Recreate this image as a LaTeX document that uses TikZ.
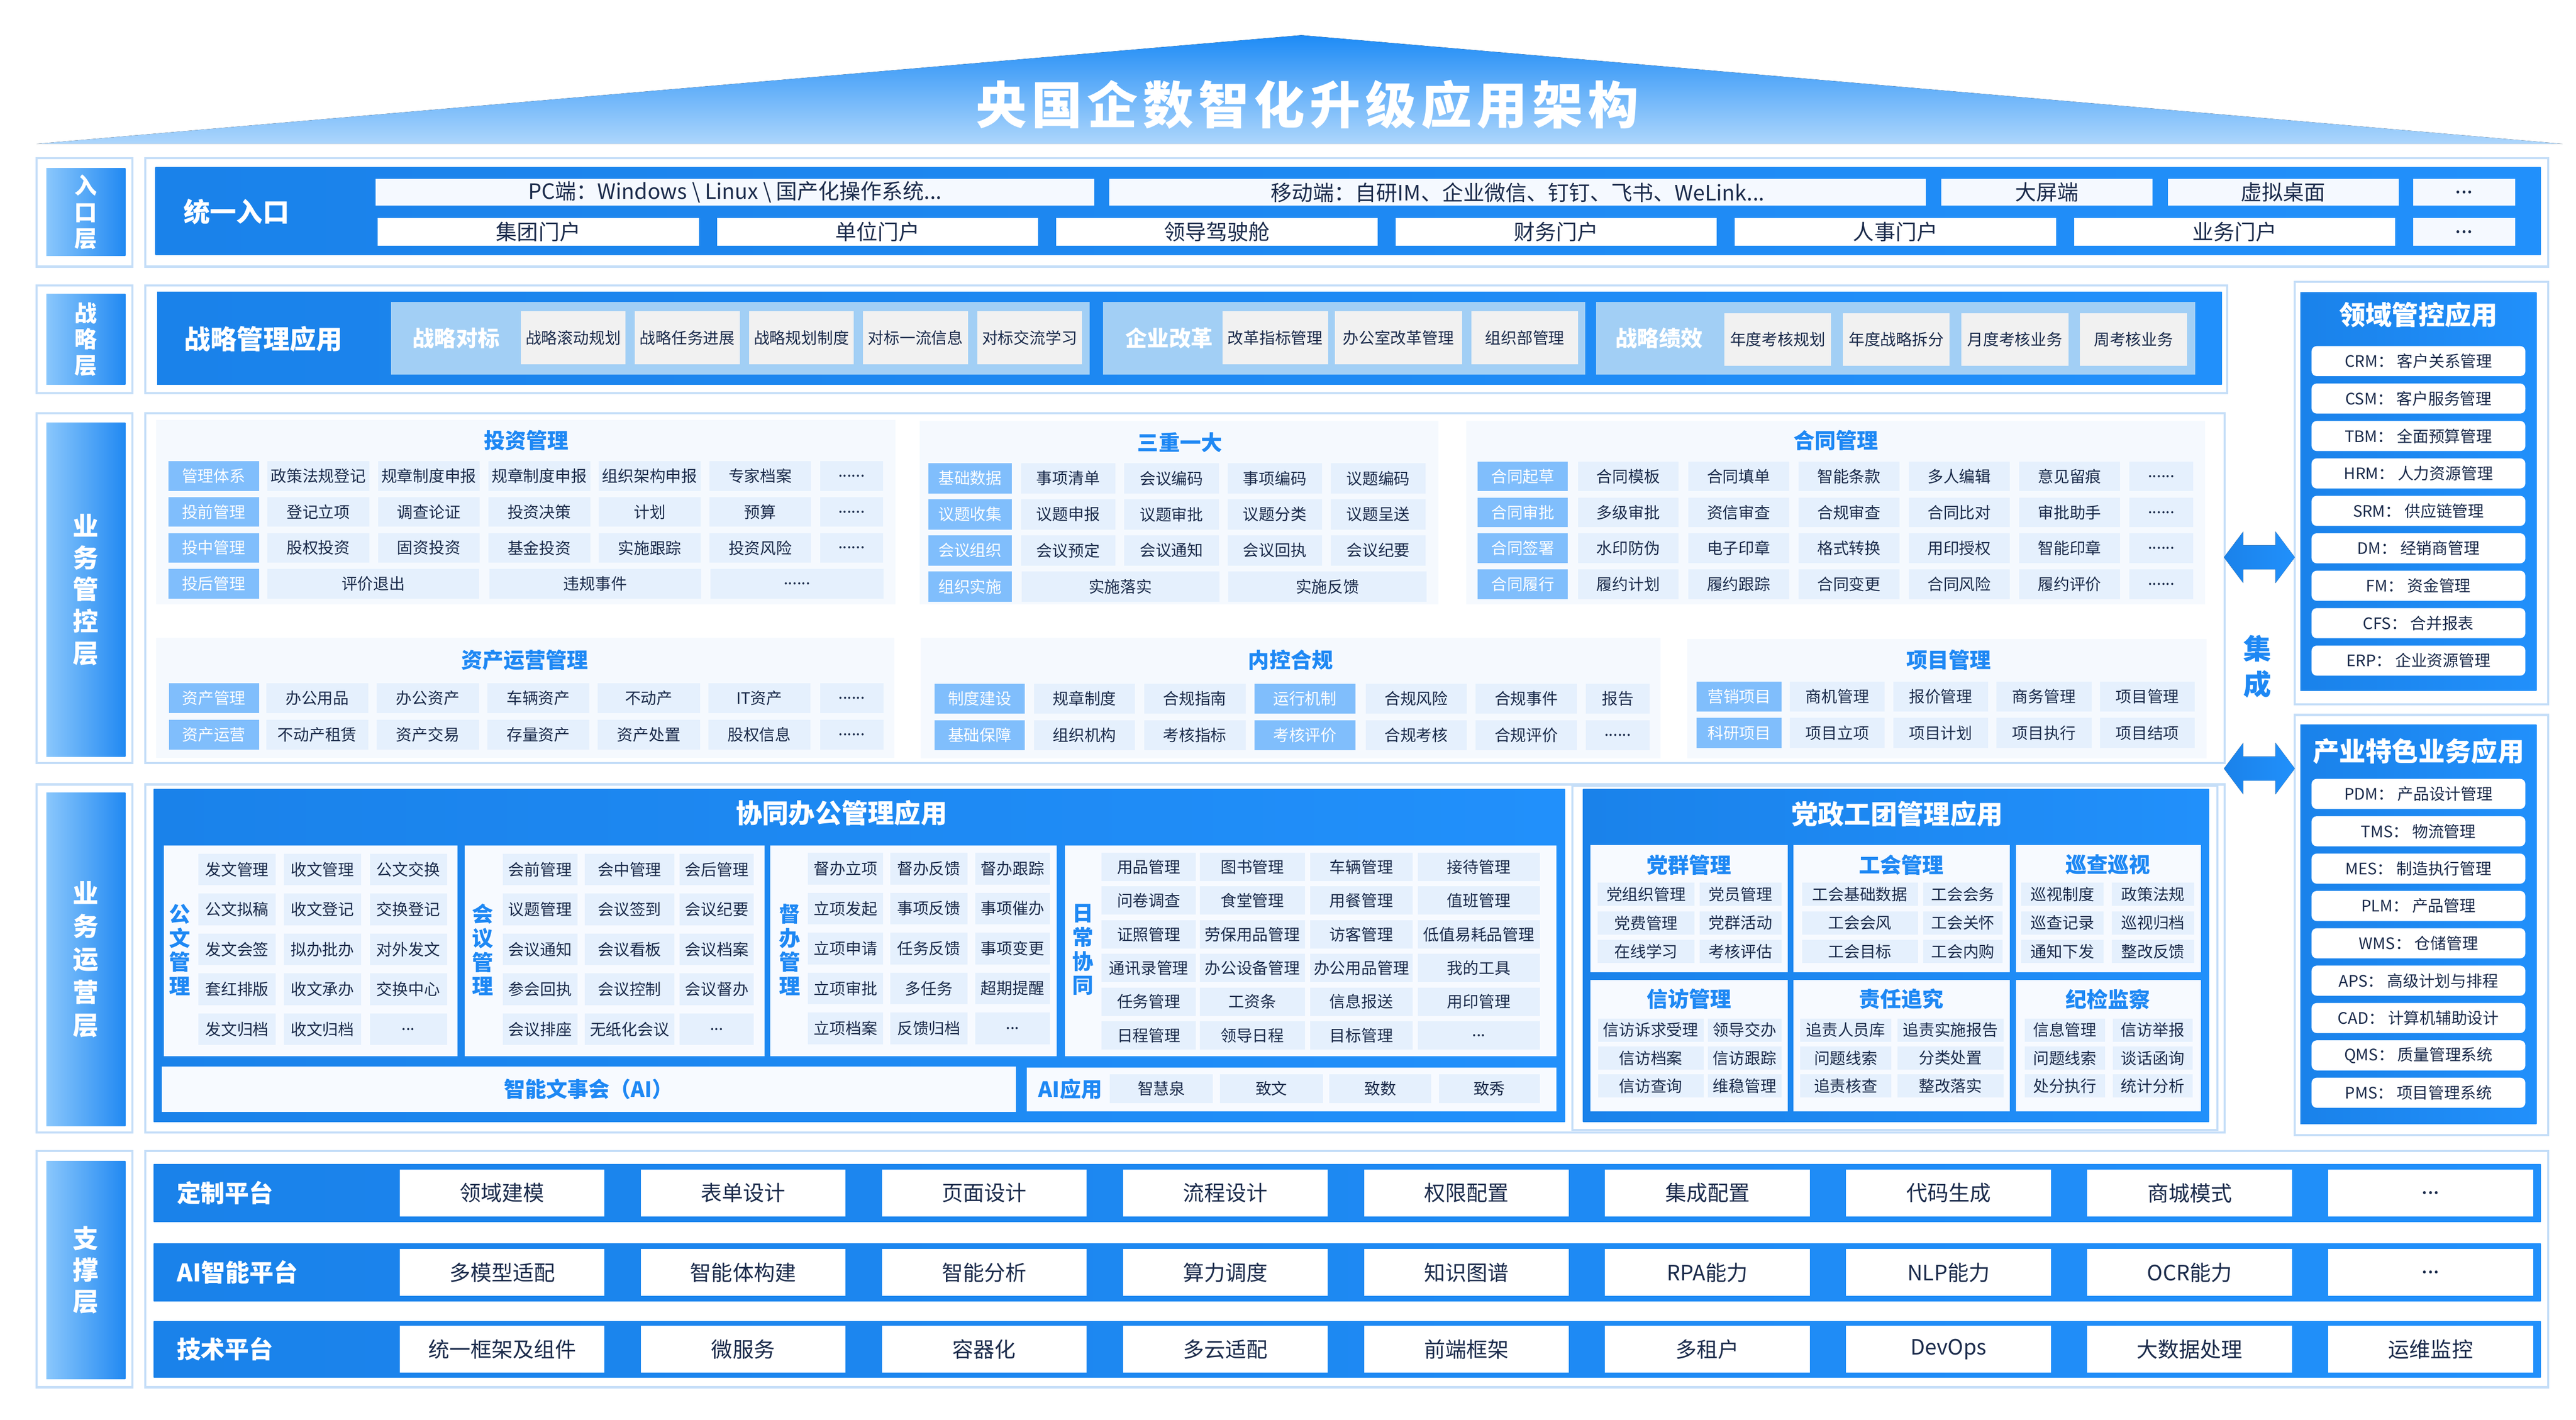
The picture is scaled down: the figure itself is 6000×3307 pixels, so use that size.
\documentclass[tikz,border=0pt]{standalone}
\usepackage{fontspec}
\newfontfamily\cjk{Noto Sans CJK SC}
\newfontfamily\cjkt[LetterSpace=10]{Noto Sans CJK SC}
\definecolor{cFrame}{HTML}{C5DEF8}
\definecolor{cLblL}{HTML}{8AC7FC}
\definecolor{cLblR}{HTML}{2189F2}
\definecolor{cBarL}{HTML}{1A82EA}
\definecolor{cBarR}{HTML}{2190FB}
\definecolor{cPanel}{HTML}{F5F9FE}
\definecolor{cSub}{HTML}{F7FAFF}
\definecolor{cItem}{HTML}{E5F0FD}
\definecolor{cTag}{HTML}{80BEFC}
\definecolor{cText}{HTML}{1B2B4B}
\definecolor{cBlue}{HTML}{1E88F4}
\definecolor{cSG}{HTML}{A2CFF5}
\definecolor{cSI}{HTML}{F1F1F1}
\definecolor{cTriT}{HTML}{1D8BF6}
\definecolor{cTriB}{HTML}{ADD6FC}
\definecolor{cEnt}{HTML}{F5F9FF}
\newcommand\sixdots{......}
\newcommand\tdots{...}
\newcommand\bx[7]{\node[#1, minimum width={(#5)*0.01cm-(#3)*0.01cm}, minimum height={(#6)*0.01cm-(#4)*0.01cm}] (#2) at ({((#3)+(#5))/2},{((#4)+(#6))/2}) {#7};}
\newcommand\grow[8]{\foreach \t [count=\k] in {#8}{\pgfmathsetmacro\xa{#3+(\k-1)*(#4)}\pgfmathsetmacro\xb{\xa+#5}\bx{#1}{#2\k}{\xa}{#6}{\xb}{#7}{\t}}}
\newcommand\gcol[8]{\foreach \t [count=\k] in {#8}{\pgfmathsetmacro\ya{#5+(\k-1)*(#6)}\pgfmathsetmacro\yb{\ya+#7}\bx{#1}{#2\k}{#3}{\ya}{#4}{\yb}{\t}}}
\tikzset{
 bxs/.style={inner sep=0pt, outer sep=0pt, anchor=center},
 frm/.style={bxs, draw=cFrame, line width=1.4pt, fill=white},
 lay/.style={bxs, left color=cLblL, right color=cLblR, text=white, align=center},
 bar/.style={bxs, left color=cBarL, right color=cBarR},
 pnl/.style={bxs, fill=cPanel},
 itm/.style={bxs, fill=cItem, text=cText, font=\cjk\fontsize{10.5pt}{12pt}\selectfont},
 tag/.style={bxs, fill=cTag, text=white, font=\cjk\fontsize{10.5pt}{12pt}\selectfont},
 ptl/.style={inner sep=0pt, text=cBlue, font=\cjk\bfseries\fontsize{14pt}{16pt}\selectfont},
 ent/.style={bxs, fill=cEnt, text=cText, font=\cjk\fontsize{14pt}{16pt}\selectfont},
 sgp/.style={bxs, fill=cSG},
 sgl/.style={inner sep=0pt, text=white, font=\cjk\bfseries\fontsize{14.5pt}{17pt}\selectfont},
 sit/.style={bxs, fill=cSI, text=cText, font=\cjk\fontsize{10.5pt}{12pt}\selectfont},
 wtl/.style={inner sep=0pt, text=white, font=\cjk\bfseries\fontsize{17.5pt}{21pt}\selectfont},
 rit/.style={bxs, fill=white, rounded corners=0.12cm, text=cText, font=\cjk\fontsize{10.5pt}{12pt}\selectfont},
 vtl/.style={inner sep=0pt, text=cBlue, align=center, font=\cjk\bfseries\fontsize{14pt}{15.9pt}\selectfont},
 supi/.style={bxs, fill=white, text=cText, font=\cjk\fontsize{14pt}{16pt}\selectfont},
 slb/.style={inner sep=0pt, anchor=west, text=white, font=\cjk\bfseries\fontsize{16pt}{19pt}\selectfont},
 arr/.style={left color=cBarL, right color=cBarR},
}
\begin{document}
\begin{tikzpicture}[x=0.01cm,y=-0.01cm]
\useasboundingbox (0,0) rectangle (6000,3307);
\fill[white] (0,0) rectangle (6000,3307);
% ---------- title
\fill[top color=cTriT, bottom color=cTriB] (85,335) -- (3031,82) -- (5969,335) -- cycle;
\node[inner sep=0pt, text=white, font=\cjkt\bfseries\fontsize{33.5pt}{40pt}\selectfont] (title) at (3045,244) {央国企数智化升级应用架构};
% ---------- entry layer
\bx{frm}{fL1}{85}{368}{308}{621}{}
\bx{lay,font=\cjk\bfseries\fontsize{15pt}{17.6pt}\selectfont}{L1}{108}{392}{292}{596}{入\\口\\层}
\bx{frm}{fM1}{338}{368}{5935}{621}{}
\bx{bar}{B1}{362}{389}{5918}{593}{}
\node[wtl, anchor=west] (B1t) at (427,493) {统一入口};
\bx{ent}{e1}{875}{417}{2549}{479}{PC端：Windows \textbackslash{} Linux \textbackslash{} 国产化操作系统...}
\bx{ent}{e2}{2584}{417}{4486}{479}{移动端：自研IM、企业微信、钉钉、飞书、WeLink...}
\bx{ent}{e3}{4522}{417}{5013}{479}{大屏端}
\bx{ent}{e4}{5049}{417}{5587}{479}{虚拟桌面}
\bx{ent}{e5}{5621}{417}{5858}{479}{...}
\grow{ent,fill=white}{p}{880}{790.2}{748}{508}{572}{集团门户,单位门户,领导驾驶舱,财务门户,人事门户,业务门户}
\bx{ent}{p7}{5621}{508}{5858}{572}{...}
% ---------- strategy layer
\bx{frm}{fL2}{85}{665}{308}{916}{}
\bx{lay,font=\cjk\bfseries\fontsize{15pt}{17.1pt}\selectfont}{L2}{108}{685}{292}{896}{战\\略\\层}
\bx{frm}{fM2}{338}{665}{5188}{916}{}
\bx{bar}{B2}{366}{680}{5175}{896}{}
\node[wtl, anchor=west] (B2t) at (428,790) {战略管理应用};
\bx{sgp}{g1}{911}{703}{2538}{872}{}
\node[sgl] (g1t) at (1062,788) {战略对标};
\grow{sit}{g1i}{1213}{265.8}{244}{725}{849}{战略滚动规划,战略任务进展,战略规划制度,对标一流信息,对标交流学习}
\bx{sgp}{g2}{2569}{703}{3692}{872}{}
\node[sgl] (g2t) at (2723,788) {企业改革};
\bx{sit}{g2i1}{2847}{725}{3093}{849}{改革指标管理}
\bx{sit}{g2i2}{3109}{725}{3405}{849}{办公室改革管理}
\bx{sit}{g2i3}{3427}{725}{3676}{849}{组织部管理}
\bx{sgp}{g3}{3717}{703}{5113}{872}{}
\node[sgl] (g3t) at (3864,788) {战略绩效};
\grow{sit}{g3i}{4016}{276.3}{249}{730}{852}{年度考核规划,年度战略拆分,月度考核业务,周考核业务}
% ---------- business control layer
\bx{frm}{fL3}{85}{962}{308}{1777}{}
\bx{lay,font=\cjk\bfseries\fontsize{17pt}{21pt}\selectfont}{L3}{108}{985}{292}{1762}{业\\务\\管\\控\\层}
\bx{frm}{fM3}{338}{962}{5181}{1777}{}
% investment
\bx{pnl}{inv}{364}{978}{2086}{1407}{}
\node[ptl] (invT) at (1226,1026) {投资管理};
\gcol{tag}{invL}{392}{603}{1074}{83.7}{69}{管理体系,投前管理,投中管理,投后管理}
\grow{itm}{invA}{623}{257.3}{237}{1074}{1143}{政策法规登记,规章制度申报,规章制度申报,组织架构申报,专家档案}
\grow{itm}{invB}{623}{257.3}{237}{1157.7}{1226.7}{登记立项,调查论证,投资决策,计划,预算}
\grow{itm}{invC}{623}{257.3}{237}{1241.4}{1310.4}{股权投资,固资投资,基金投资,实施跟踪,投资风险}
\gcol{itm}{invX}{1910}{2057}{1074}{83.7}{69}{\sixdots,\sixdots,\sixdots}
\bx{itm}{invD1}{623}{1325}{1116}{1394}{评价退出}
\bx{itm}{invD2}{1140}{1325}{1633}{1394}{违规事件}
\bx{itm}{invD3}{1655}{1325}{2058}{1394}{\sixdots}
% three-one
\bx{pnl}{sz}{2142}{981}{3350}{1407}{}
\node[ptl] (szT) at (2748,1030) {三重一大};
\gcol{tag}{szL}{2162}{2357}{1079}{84}{70}{基础数据,议题收集,会议组织,组织实施}
\grow{itm}{szA}{2378}{240.7}{220}{1079}{1149}{事项清单,会议编码,事项编码,议题编码}
\grow{itm}{szB}{2378}{240.7}{220}{1163}{1233}{议题申报,议题审批,议题分类,议题呈送}
\grow{itm}{szC}{2378}{240.7}{220}{1247}{1317}{会议预定,会议通知,会议回执,会议纪要}
\bx{itm}{szD1}{2379}{1331}{2840}{1401}{实施落实}
\bx{itm}{szD2}{2861}{1331}{3323}{1401}{实施反馈}
% contract
\bx{pnl}{ht}{3415}{980}{5136}{1407}{}
\node[ptl] (htT) at (4276,1026) {合同管理};
\gcol{tag}{htL}{3442}{3652}{1075}{83.7}{69}{合同起草,合同审批,合同签署,合同履行}
\grow{itm}{htA}{3675}{257}{235}{1075}{1144}{合同模板,合同填单,智能条款,多人编辑,意见留痕}
\grow{itm}{htB}{3675}{257}{235}{1158.7}{1227.7}{多级审批,资信审查,合规审查,合同比对,审批助手}
\grow{itm}{htC}{3675}{257}{235}{1242.4}{1311.4}{水印防伪,电子印章,格式转换,用印授权,智能印章}
\grow{itm}{htD}{3675}{257}{235}{1326.1}{1395.1}{履约计划,履约跟踪,合同变更,合同风险,履约评价}
\gcol{itm}{htX}{4960}{5108}{1075}{83.7}{69}{\sixdots,\sixdots,\sixdots,\sixdots}
% asset
\bx{pnl}{zc}{364}{1485}{2083}{1765}{}
\node[ptl] (zcT) at (1222,1537) {资产运营管理};
\gcol{tag}{zcL}{393}{603}{1591}{85}{70}{资产管理,资产运营}
\grow{itm}{zcA}{620}{257.4}{238}{1591}{1661}{办公用品,办公资产,车辆资产,不动产,IT资产}
\grow{itm}{zcB}{620}{257.4}{238}{1676}{1746}{不动产租赁,资产交易,存量资产,资产处置,股权信息}
\gcol{itm}{zcX}{1910}{2058}{1591}{85}{70}{\sixdots,\sixdots}
% internal control
\bx{pnl}{nk}{2144}{1486}{3867}{1766}{}
\node[ptl] (nkT) at (3006,1537) {内控合规};
\gcol{tag}{nkA}{2177}{2387}{1592}{85}{70}{制度建设,基础保障}
\gcol{itm}{nkB}{2408}{2644}{1592}{85}{70}{规章制度,组织机构}
\gcol{itm}{nkC}{2665}{2901}{1592}{85}{70}{合规指南,考核指标}
\gcol{tag}{nkD}{2922}{3157}{1592}{85}{70}{运行机制,考核评价}
\gcol{itm}{nkE}{3181}{3416}{1592}{85}{70}{合规风险,合规考核}
\gcol{itm}{nkF}{3437}{3673}{1592}{85}{70}{合规事件,合规评价}
\gcol{itm}{nkG}{3694}{3842}{1592}{85}{70}{报告,\sixdots}
% project
\bx{pnl}{xm}{3930}{1488}{5140}{1766}{}
\node[ptl] (xmT) at (4539,1537) {项目管理};
\gcol{tag}{xmL}{3952}{4150}{1587}{85}{70}{营销项目,科研项目}
\grow{itm}{xmA}{4169}{240.7}{221}{1587}{1657}{商机管理,报价管理,商务管理,项目管理}
\grow{itm}{xmB}{4169}{240.7}{221}{1672}{1742}{项目立项,项目计划,项目执行,项目结项}
% ---------- business operation layer
\bx{frm}{fL4}{85}{1827}{308}{2638}{}
\bx{lay,font=\cjk\bfseries\fontsize{17pt}{21.9pt}\selectfont}{L4}{108}{1846}{292}{2623}{业\\务\\运\\营\\层}
\bx{frm}{fM4}{338}{1827}{5181}{2638}{}
\bx{bar}{xt}{358}{1838}{3645}{2613}{}
\node[wtl] (xtT) at (1960,1894) {协同办公管理应用};
\bx{bxs,fill=cSub}{xt1}{382}{1969}{1065}{2460}{}
\bx{bxs,fill=cSub}{xt2}{1082}{1969}{1781}{2460}{}
\bx{bxs,fill=cSub}{xt3}{1794}{1969}{2461}{2460}{}
\bx{bxs,fill=cSub}{xt4}{2480}{1969}{3625}{2460}{}
\node[vtl] (v1) at (419,2212) {公\\文\\管\\理};
\node[vtl] (v2) at (1124,2212) {会\\议\\管\\理};
\node[vtl] (v3) at (1840,2212) {督\\办\\管\\理};
\node[vtl] (v4) at (2522,2212) {日\\常\\协\\同};
\gcol{itm}{gwA}{462}{642}{1988}{93}{74}{发文管理,公文拟稿,发文会签,套红排版,发文归档}
\gcol{itm}{gwB}{661}{841}{1988}{93}{74}{收文管理,收文登记,拟办批办,收文承办,收文归档}
\gcol{itm}{gwC}{861}{1041}{1988}{93}{74}{公文交换,交换登记,对外发文,交换中心,\tdots}
\gcol{itm}{hyA}{1171}{1345}{1988}{93}{74}{会前管理,议题管理,会议通知,参会回执,会议排座}
\gcol{itm}{hyB}{1362}{1571}{1988}{93}{74}{会中管理,会议签到,会议看板,会议控制,无纸化会议}
\gcol{itm}{hyC}{1583}{1756}{1988}{93}{74}{会后管理,会议纪要,会议档案,会议督办,\tdots}
\gcol{itm}{dbA}{1882}{2057}{1986}{93}{74}{督办立项,立项发起,立项申请,立项审批,立项档案}
\gcol{itm}{dbB}{2073}{2254}{1986}{93}{74}{督办反馈,事项反馈,任务反馈,多任务,反馈归档}
\gcol{itm}{dbC}{2271}{2446}{1986}{93}{74}{督办跟踪,事项催办,事项变更,超期提醒,\tdots}
\gcol{itm}{rcA}{2566}{2785}{1986}{78.5}{66}{用品管理,问卷调查,证照管理,通讯录管理,任务管理,日程管理}
\gcol{itm}{rcB}{2795}{3039}{1986}{78.5}{66}{图书管理,食堂管理,劳保用品管理,办公设备管理,工资条,领导日程}
\gcol{itm}{rcC}{3052}{3290}{1986}{78.5}{66}{车辆管理,用餐管理,访客管理,办公用品管理,信息报送,目标管理}
\gcol{itm}{rcD}{3302}{3587}{1986}{78.5}{66}{接待管理,值班管理,低值易耗品管理,我的工具,用印管理,\tdots}
\bx{bxs,fill=cSub}{ai1}{377}{2484}{2366}{2589}{}
\node[ptl] (ai1t) at (1371,2537) {智能文事会（AI）};
\bx{bxs,fill=cSub}{ai2}{2391}{2486}{3625}{2588}{}
\node[ptl] (ai2t) at (2493,2537) {AI应用};
\bx{itm}{ai21}{2585}{2502}{2825}{2569}{智慧泉}
\bx{itm}{ai22}{2842}{2502}{3081}{2569}{致文}
\bx{itm}{ai23}{3096}{2502}{3334}{2569}{致数}
\bx{itm}{ai24}{3351}{2502}{3587}{2569}{致秀}
% party
\bx{frm}{fP}{3662}{1830}{5165}{2632}{}
\bx{bar}{dz}{3687}{1838}{5145}{2613}{}
\node[wtl] (dzT) at (4419,1896) {党政工团管理应用};
\bx{bxs,fill=cSub}{dz1}{3704}{1968}{4164}{2264}{}
\bx{bxs,fill=cSub}{dz2}{4177}{1968}{4681}{2264}{}
\bx{bxs,fill=cSub}{dz3}{4695}{1968}{5126}{2264}{}
\bx{bxs,fill=cSub}{dz4}{3704}{2282}{4164}{2588}{}
\bx{bxs,fill=cSub}{dz5}{4177}{2282}{4681}{2588}{}
\bx{bxs,fill=cSub}{dz6}{4695}{2282}{5126}{2588}{}
\node[ptl] (dz1t) at (3934,2014) {党群管理};
\node[ptl] (dz2t) at (4429,2014) {工会管理};
\node[ptl] (dz3t) at (4910,2014) {巡查巡视};
\node[ptl] (dz4t) at (3934,2327) {信访管理};
\node[ptl] (dz5t) at (4429,2327) {责任追究};
\node[ptl] (dz6t) at (4910,2327) {纪检监察};
\gcol{itm}{dqA}{3721}{3947}{2056}{66.5}{54}{党组织管理,党费管理,在线学习}
\gcol{itm}{dqB}{3959}{4149}{2056}{66.5}{54}{党员管理,党群活动,考核评估}
\gcol{itm}{ghA}{4197}{4467}{2056}{66.5}{54}{工会基础数据,工会会风,工会目标}
\gcol{itm}{ghB}{4480}{4664}{2056}{66.5}{54}{工会会务,工会关怀,工会内购}
\gcol{itm}{xcA}{4708}{4900}{2056}{66.5}{54}{巡视制度,巡查记录,通知下发}
\gcol{itm}{xcB}{4919}{5111}{2056}{66.5}{54}{政策法规,巡视归档,整改反馈}
\gcol{itm}{xfA}{3722}{3968}{2372}{65}{54}{信访诉求受理,信访档案,信访查询}
\gcol{itm}{xfB}{3978}{4149}{2372}{65}{54}{领导交办,信访跟踪,维稳管理}
\gcol{itm}{zrA}{4193}{4405}{2372}{65}{54}{追责人员库,问题线索,追责核查}
\gcol{itm}{zrB}{4419}{4667}{2372}{65}{54}{追责实施报告,分类处置,整改落实}
\gcol{itm}{jjA}{4716}{4903}{2372}{65}{54}{信息管理,问题线索,处分执行}
\gcol{itm}{jjB}{4921}{5107}{2372}{65}{54}{信访举报,谈话函询,统计分析}
% ---------- right panels
\bx{frm}{fR1}{5345}{656}{5935}{1640}{}
\bx{bar}{R1}{5358}{681}{5908}{1609}{}
\node[wtl] (R1t) at (5633,733) {领域管控应用};
\gcol{rit}{ra}{5384}{5882}{806}{87.2}{70}{CRM：\ 客户关系管理,CSM：\ 客户服务管理,TBM：\ 全面预算管理,HRM：\ 人力资源管理,SRM：\ 供应链管理,DM：\ 经销商管理,FM：\ 资金管理,CFS：\ 合并报表,ERP：\ 企业资源管理}
\bx{frm}{fR2}{5345}{1665}{5935}{2644}{}
\bx{bar}{R2}{5358}{1688}{5908}{2618}{}
\node[wtl] (R2t) at (5633,1750) {产业特色业务应用};
\gcol{rit}{rb}{5384}{5882}{1814}{87}{70}{PDM：\ 产品设计管理,TMS：\ 物流管理,MES：\ 制造执行管理,PLM：\ 产品管理,WMS：\ 仓储管理,APS：\ 高级计划与排程,CAD：\ 计算机辅助设计,QMS：\ 质量管理系统,PMS：\ 项目管理系统}
% integration arrows
\fill[arr] (5180,1298) -- (5225,1238) -- (5225,1270) -- (5300,1270) -- (5300,1238) -- (5345,1298) -- (5300,1358) -- (5300,1326) -- (5225,1326) -- (5225,1358) -- cycle;
\fill[arr] (5180,1790) -- (5225,1730) -- (5225,1762) -- (5300,1762) -- (5300,1730) -- (5345,1790) -- (5300,1850) -- (5300,1818) -- (5225,1818) -- (5225,1850) -- cycle;
\node[inner sep=0pt, text=cBlue, align=center, font=\cjk\bfseries\fontsize{18.5pt}{23.6pt}\selectfont] (jc) at (5258,1552) {集\\成};
% ---------- support layer
\bx{frm}{fL5}{85}{2681}{308}{3231}{}
\bx{lay,font=\cjk\bfseries\fontsize{17pt}{20.8pt}\selectfont}{L5}{108}{2704}{292}{3212}{支\\撑\\层}
\bx{frm}{fM5}{338}{2681}{5935}{3231}{}
\bx{bar}{S1}{358}{2711}{5918}{2846}{}
\bx{bar}{S2}{358}{2896}{5918}{3031}{}
\bx{bar}{S3}{358}{3077}{5918}{3208}{}
\node[slb] (S1t) at (411,2778) {定制平台};
\node[slb] (S2t) at (411,2963) {AI智能平台};
\node[slb] (S3t) at (411,3142) {技术平台};
\grow{supi}{sa}{931}{561.5}{477}{2724}{2833}{领域建模,表单设计,页面设计,流程设计,权限配置,集成配置,代码生成,商城模式,\tdots}
\grow{supi}{sb}{931}{561.5}{477}{2909}{3018}{多模型适配,智能体构建,智能分析,算力调度,知识图谱,RPA能力,NLP能力,OCR能力,\tdots}
\grow{supi}{sc}{931}{561.5}{477}{3088}{3197}{统一框架及组件,微服务,容器化,多云适配,前端框架,多租户,DevOps,大数据处理,运维监控}
\end{tikzpicture}
\end{document}
